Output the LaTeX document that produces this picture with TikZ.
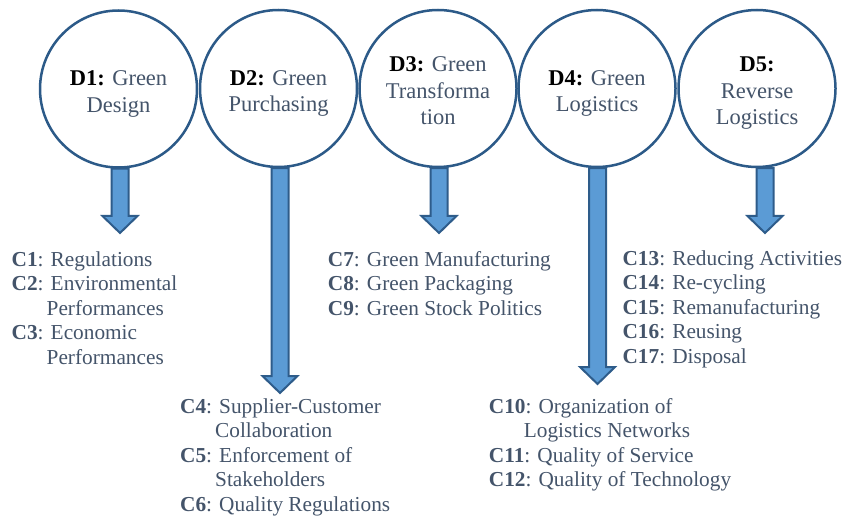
\documentclass[tikz,border=0pt]{standalone}
\usepackage{fontspec}
\setmainfont{Liberation Serif}
\usetikzlibrary{calc}
\definecolor{ringblue}{HTML}{2C5A88}
\definecolor{arrowfill}{HTML}{5B9BD5}
\definecolor{arrowline}{HTML}{2E5C8A}
\definecolor{slate}{HTML}{44546A}
\tikzstyle{dimcircle} = [circle, minimum size=157pt, inner sep=0pt, draw=ringblue, line width=2.5pt, fill=white, align=center, text=slate, text depth=0pt, font=\fontsize{22.5}{26.5}\selectfont]
\tikzstyle{critlist} = [anchor=north west, inner sep=0pt, align=left, text=slate, font=\fontsize{21.3}{24.5}\selectfont]
\tikzstyle{blockarrow} = [fill=arrowfill, draw=arrowline, line width=2pt, line join=miter]
\newcommand{\dlabel}[1]{\rule{0pt}{20pt}\textcolor{black}{\textbf{#1}}}
\newcommand{\critind}{\hspace*{35pt}}
% block arrow from the bottom of a circle down to a tip coordinate
\newcommand{\blockarrow}[2]{%
  \draw[blockarrow] let \p1 = (#1.south), \p2 = (#2) in
    (\x2-8.5pt,\y1) -- (\x2-8.5pt,\y2+17pt) -- (\x2-17.5pt,\y2+17pt) -- (\x2,\y2)
    -- (\x2+17.5pt,\y2+17pt) -- (\x2+8.5pt,\y2+17pt) -- (\x2+8.5pt,\y1) -- cycle;}

\begin{document}
\begin{tikzpicture}[x=1pt, y=-1pt]
    \useasboundingbox (0,0) rectangle (842,518);

    % the five dimensions
    \node (d1) [dimcircle] at (118.5,89) {\dlabel{D1:} Green\\Design};
    \node (d2) [dimcircle] at (278.5,88.5) {\dlabel{D2:} Green\\Purchasing};
    \node (d3) [dimcircle] at (438,88.5) {\dlabel{D3:} Green\\Transforma\\tion};
    \node (d4) [dimcircle] at (597,88.5) {\dlabel{D4:} Green\\Logistics};
    \node (d5) [dimcircle] at (757,88.5) {\dlabel{D5:}\\Reverse\\Logistics};

    % arrow tips
    \coordinate (tip1) at (120,233);
    \coordinate (tip2) at (280,393);
    \coordinate (tip3) at (439,233);
    \coordinate (tip4) at (597.5,384);
    \coordinate (tip5) at (765,233);

    \blockarrow{d1}{tip1}
    \blockarrow{d2}{tip2}
    \blockarrow{d3}{tip3}
    \blockarrow{d4}{tip4}
    \blockarrow{d5}{tip5}

    % criteria
    \node (crit1) [critlist] at (11.5,249) {\strut\textbf{C1}: Regulations\\
        \textbf{C2}: Environmental\\\critind Performances\\
        \textbf{C3}: Economic\\\critind Performances};
    \node (crit2) [critlist] at (180,396) {\strut\textbf{C4}: Supplier-Customer\\
        \critind Collaboration\\
        \textbf{C5}: Enforcement of\\\critind Stakeholders\\
        \textbf{C6}: Quality Regulations};
    \node (crit3) [critlist] at (327.7,249) {\strut\textbf{C7}: Green Manufacturing\\
        \textbf{C8}: Green Packaging\\
        \textbf{C9}: Green Stock Politics};
    \node (crit4) [critlist] at (488.7,396) {\strut\textbf{C10}: Organization of\\
        \critind Logistics Networks\\
        \textbf{C11}: Quality of Service\\
        \textbf{C12}: Quality of Technology};
    \node (crit5) [critlist] at (622.4,248) {\strut\textbf{C13}: Reducing Activities\\
        \textbf{C14}: Re-cycling\\
        \textbf{C15}: Remanufacturing\\
        \textbf{C16}: Reusing\\
        \textbf{C17}: Disposal};

\end{tikzpicture}
\end{document}
